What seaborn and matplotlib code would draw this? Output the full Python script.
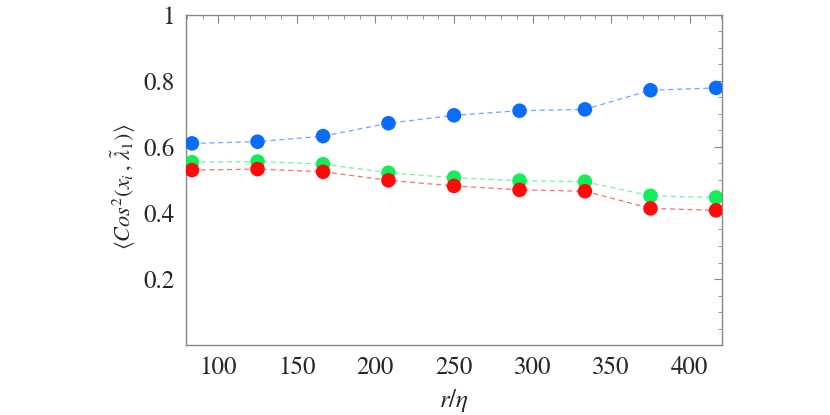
import numpy as np
import pandas as pd
import matplotlib
matplotlib.use("Agg")
import matplotlib.pyplot as plt
import seaborn as sns
from matplotlib.ticker import MultipleLocator

# datos
r_eta = [83.3, 125.0, 166.7, 208.3, 250.0, 291.7, 333.3, 375.0, 416.7]
cos_azul = [0.611, 0.616, 0.633, 0.672, 0.696, 0.710, 0.714, 0.772, 0.779]
cos_verde = [0.554, 0.556, 0.548, 0.522, 0.507, 0.498, 0.495, 0.452, 0.447]
cos_rojo = [0.530, 0.533, 0.525, 0.499, 0.482, 0.470, 0.466, 0.414, 0.408]
series = ["azul", "verde", "rojo"]
colores = {"azul": "#0a6cff", "verde": "#10ee5a", "rojo": "#ff0a0a"}

tabla = pd.concat([
    pd.DataFrame({"r": r_eta, "cos": cos_azul, "serie": "azul"}),
    pd.DataFrame({"r": r_eta, "cos": cos_verde, "serie": "verde"}),
    pd.DataFrame({"r": r_eta, "cos": cos_rojo, "serie": "rojo"}),
])

sns.set_style("white")
plt.rcParams["font.family"] = ["STIXGeneral", "Liberation Serif", "DejaVu Serif"]
plt.rcParams["mathtext.fontset"] = "stix"

fig = plt.figure(figsize=(8.3, 4.15), dpi=100)
ax = fig.add_axes([186 / 830, 70 / 415, 536 / 830, 330 / 415])

sns.lineplot(data=tabla, x="r", y="cos", hue="serie", hue_order=series,
             palette=colores, ax=ax, legend=False, linestyle=(0, (4, 3)),
             linewidth=0.9, alpha=0.6)
sns.scatterplot(data=tabla, x="r", y="cos", hue="serie", hue_order=series,
                palette=colores, ax=ax, legend=False, s=110, linewidth=0,
                zorder=3)

ax.set_xlim(79.5, 420.5)
ax.set_ylim(0, 1)
ax.set_xticks([100, 150, 200, 250, 300, 350, 400])
ax.set_yticks([0.2, 0.4, 0.6, 0.8, 1.0])
ax.set_yticklabels(["0.2", "0.4", "0.6", "0.8", "1"])
ax.xaxis.set_minor_locator(MultipleLocator(10))
ax.yaxis.set_minor_locator(MultipleLocator(0.05))
ax.tick_params(which="both", direction="in", top=True, right=True,
               color="#888888", labelsize=18, pad=8)
ax.tick_params(which="major", length=6, width=0.8)
ax.tick_params(which="minor", length=3, width=0.6)
for lado in ax.spines.values():
    lado.set_color("#888888")
    lado.set_linewidth(1)

ax.set_xlabel(r"$r/\eta$", fontsize=18, labelpad=5)
ax.set_ylabel(r"$\langle Cos^2(x_i\,,\,\tilde{\lambda}_1)\rangle$", fontsize=16)
ax.yaxis.set_label_coords(-0.09, 0.48)

fig.savefig("out.png", dpi=100)
